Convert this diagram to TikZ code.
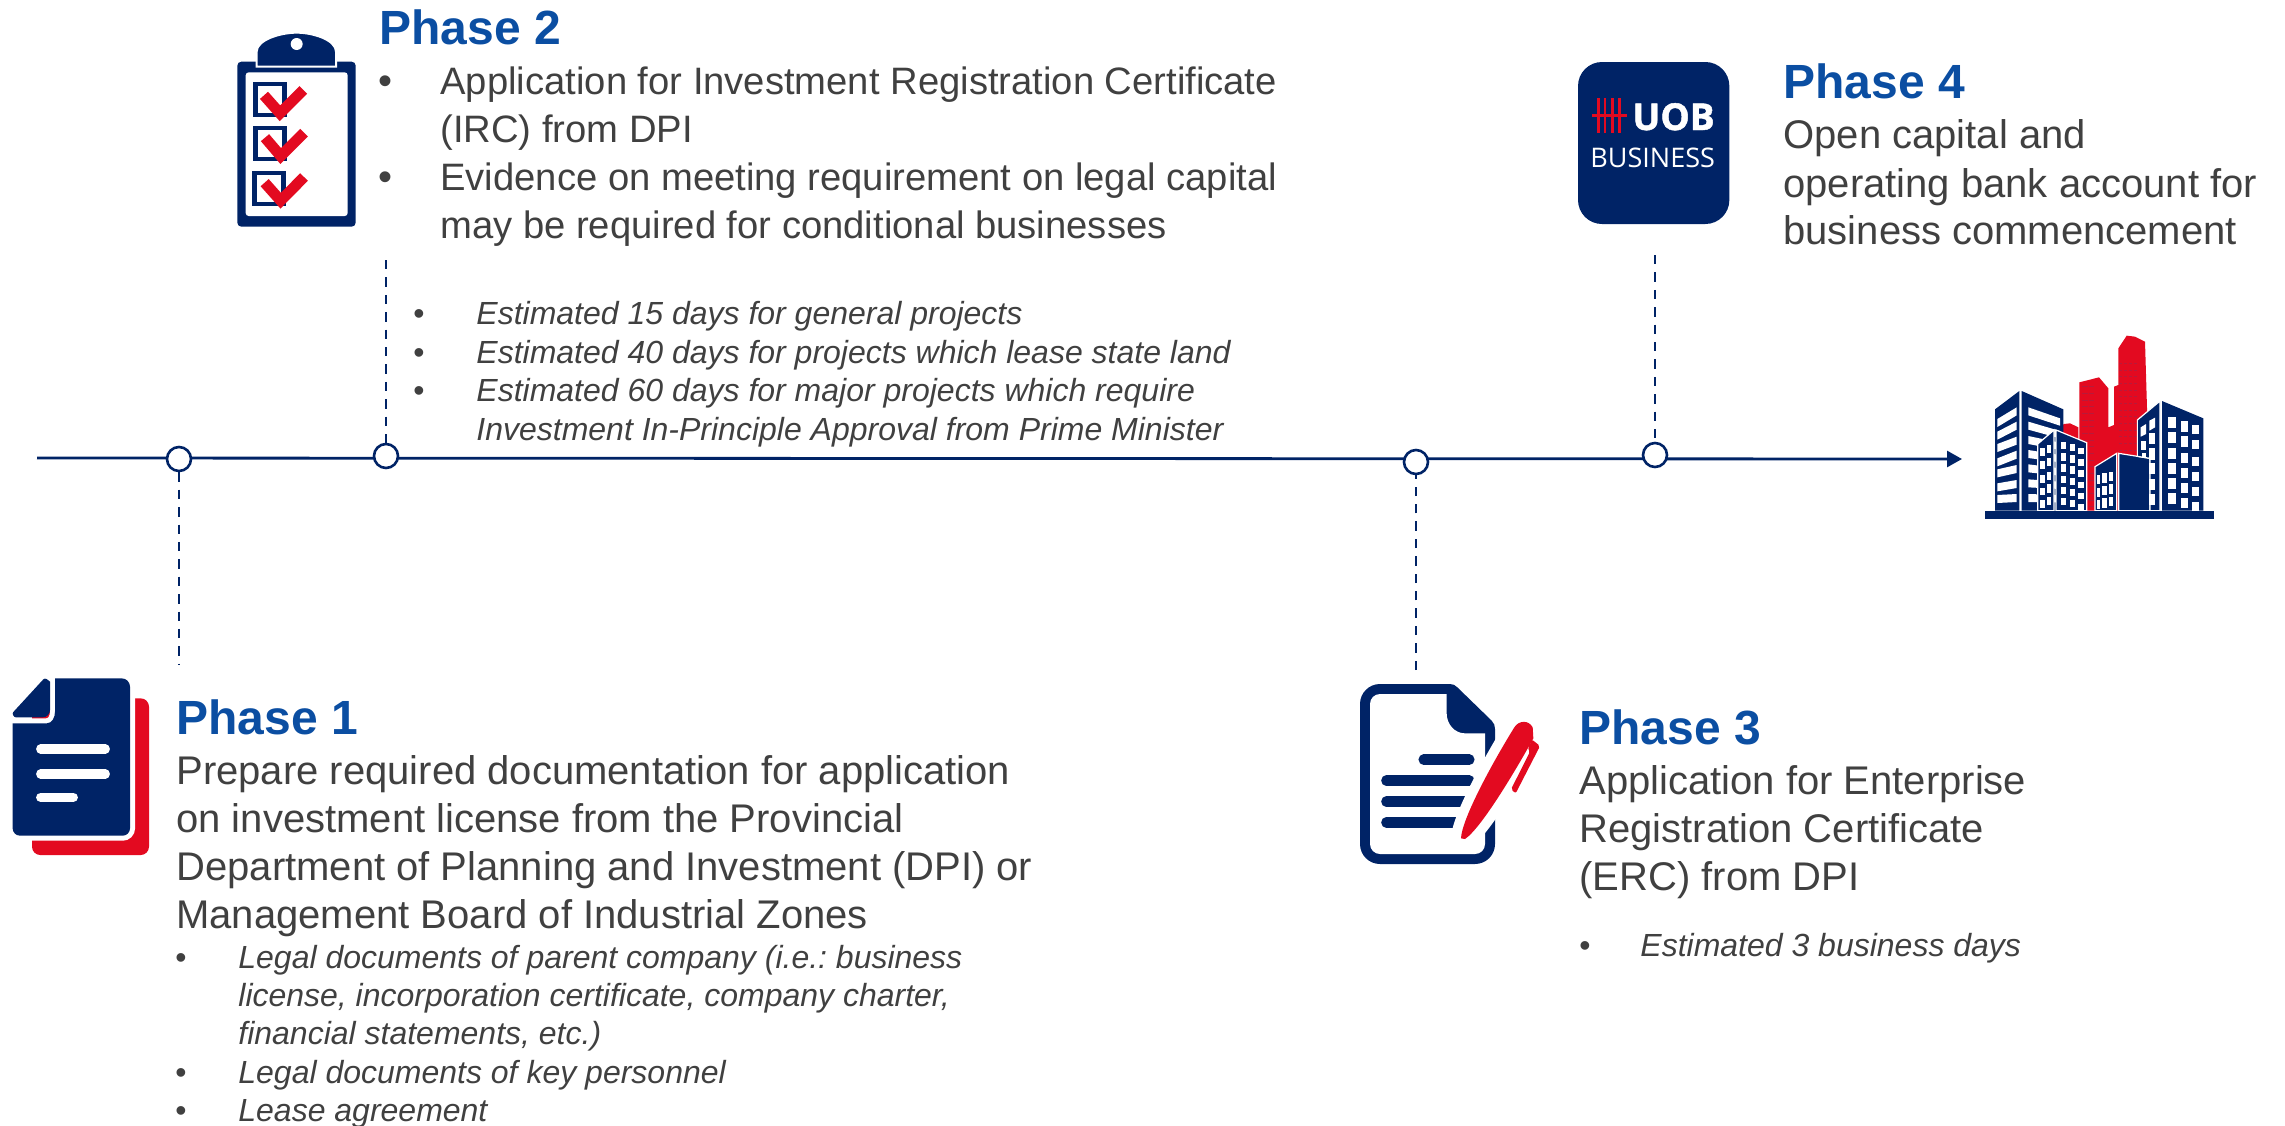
\documentclass[tikz,border=0pt]{standalone}
\usepackage{fontspec}
\setmainfont{Liberation Sans}
\newfontfamily\logofont[BoldFeatures={FakeBold=1.2}]{Open Sans}
\usetikzlibrary{arrows.meta}
\definecolor{navy}{HTML}{002366}
\definecolor{redc}{HTML}{E30A20}
\definecolor{headc}{HTML}{0B4EA2}
\definecolor{bodyc}{HTML}{404040}
\definecolor{winred}{HTML}{B81A3A}
\frenchspacing
\tikzset{
  headtext/.style={anchor=base west,inner sep=0pt,text=headc,font=\fontsize{24}{28}\selectfont\bfseries},
  bodytext/.style={anchor=base west,inner sep=0pt,text=bodyc,font=\fontsize{20}{24}\selectfont},
  bodysmall/.style={anchor=base west,inner sep=0pt,text=bodyc,font=\fontsize{19.1}{24}\selectfont},
  ittext/.style={anchor=base west,inner sep=0pt,text=bodyc,font=\fontsize{16}{18}\selectfont\itshape},
  bigbullet/.style={anchor=base,inner sep=0pt,text=bodyc,font=\fontsize{20}{24}\selectfont},
  smallbullet/.style={anchor=base,inner sep=0pt,text=bodyc,font=\fontsize{16}{18}\selectfont},
  mark circle/.style={circle,draw=navy,fill=white,line width=1.3pt,minimum size=12pt,inner sep=0pt},
  timeline/.style={draw=navy,line width=1.4pt,-{Triangle[length=7.5pt,width=8pt]}},
  stem/.style={draw=navy,line width=1.25pt,dash pattern=on 4.7pt off 4pt},
  zoomed/.style={x=0.16667pt,y=-0.16667pt},
}
\begin{document}
\begin{tikzpicture}[x=0.5pt,y=-0.5pt]
\useasboundingbox (0,0) rectangle (2285,1125);

% timeline
\coordinate (tlstart) at (37,458);
\coordinate (tlend) at (1962,459);
\draw[timeline] (tlstart) -- (tlend);
\node[mark circle] (c1) at (179,459) {};
\node[mark circle] (c2) at (386,456) {};
\node[mark circle] (c3) at (1416,462) {};
\node[mark circle] (c4) at (1655,455) {};
\coordinate (e1) at (179,665);
\coordinate (e2) at (386,260);
\coordinate (e3) at (1416,670);
\coordinate (e4) at (1655,255);
\draw[stem] (c1) -- (e1);
\draw[stem] (e2) -- (c2);
\draw[stem] (e3) -- (c3);
\draw[stem] (e4) -- (c4);

% Phase 2
\node[headtext] (h2) at (379,44) {Phase 2};
\node[bigbullet] (b21) at (385,94) {•};
\node[bodysmall] (t21) at (440,94) {Application for Investment Registration Certificate};
\node[bodysmall] (t22) at (440,142) {(IRC) from DPI};
\node[bigbullet] (b22) at (385,190) {•};
\node[bodysmall] (t23) at (440,190) {Evidence on meeting requirement on legal capital};
\node[bodysmall] (t24) at (440,238) {may be required for conditional businesses};
\node[smallbullet] (b23) at (419,324.5) {•};
\node[ittext] (t25) at (476,324.5) {Estimated 15 days for general projects};
\node[smallbullet] (b24) at (419,363.5) {•};
\node[ittext] (t26) at (476,363.5) {Estimated 40 days for projects which lease state land};
\node[smallbullet] (b25) at (419,401.5) {•};
\node[ittext] (t27) at (476,401.5) {Estimated 60 days for major projects which require};
\node[ittext] (t28) at (476,440.5) {Investment In-Principle Approval from Prime Minister};

% Phase 4
\node[headtext] (h4) at (1783,98) {Phase 4};
\node[bodytext] (t41) at (1783,148.5) {Open capital and};
\node[bodytext] (t42) at (1783,197.5) {operating bank account for};
\node[bodytext] (t43) at (1783,244.5) {business commencement};

% Phase 1
\node[headtext] (h1) at (176,734) {Phase 1};
\node[bodytext] (t11) at (176,784) {Prepare required documentation for application};
\node[bodytext] (t12) at (176,832) {on investment license from the Provincial};
\node[bodytext] (t13) at (176,880) {Department of Planning and Investment (DPI) or};
\node[bodytext] (t14) at (176,928) {Management Board of Industrial Zones};
\node[smallbullet] (b11) at (181,968) {•};
\node[ittext] (t15) at (238,968) {Legal documents of parent company (i.e.: business};
\node[ittext] (t16) at (238,1006) {license, incorporation certificate, company charter,};
\node[ittext] (t17) at (238,1044) {financial statements, etc.)};
\node[smallbullet] (b12) at (181,1083) {•};
\node[ittext] (t18) at (238,1083) {Legal documents of key personnel};
\node[smallbullet] (b13) at (181,1121) {•};
\node[ittext] (t19) at (238,1121) {Lease agreement};

% Phase 3
\node[headtext] (h3) at (1579,744) {Phase 3};
\node[bodytext] (t31) at (1579,794.5) {Application for Enterprise};
\node[bodytext] (t32) at (1579,842.5) {Registration Certificate};
\node[bodytext] (t33) at (1579,890.5) {(ERC) from DPI};
\node[smallbullet] (b31) at (1585,956.5) {•};
\node[ittext] (t34) at (1640,956.5) {Estimated 3 business days};

% Document icon (Phase 1)
\begin{scope}[shift={(0,660)},zoomed]
\fill[redc] (96,140) to[out=90,in=180] (121,115) -- (422,115) to[out=0,in=90] (447,140) -- (447,560) to[out=-90,in=0] (422,585) -- (121,585) to[out=180,in=-90] (96,560) -- cycle;
\def\docbody{(165,55) -- (365,55) to[out=0,in=90] (390,80) -- (390,505) to[out=-90,in=0] (368,527) -- (60,527) to[out=180,in=-90] (38,505) -- (38,190) -- (140,190) to[out=0,in=-90] (165,155) -- cycle}
\draw[white,line width=5pt] \docbody;
\fill[navy] \docbody;
\fill[navy] (130,58) to[out=45,in=135] (150,65) -- (150,150) to[out=-90,in=0] (128,172) -- (48,172) to[out=180,in=-135] (40,156) -- cycle;
\draw[white,line width=4.6pt,line cap=round] (122,267) -- (316,267) (122,342) -- (316,342) (122,412) -- (220,412);
\end{scope}

% Clipboard icon (Phase 2)
\begin{scope}[shift={(220,20)},zoomed]
\fill[navy,rounded corners=2pt] (52,125) rectangle (407,620);
\fill[white,rounded corners=1.5pt] (77,157) rectangle (383,588);
\filldraw[navy,draw=white,line width=1pt] (110,140) -- (110,95) .. controls (110,60) and (180,38) .. (230,38) .. controls (280,38) and (348,60) .. (348,95) -- (348,140) -- cycle;
\fill[white] (230,72) circle (18);
\foreach \bx/\by in {100/185,100/317,97/452}{
  \draw[navy,line width=2.2pt] (\bx+6.5,\by+6.5) rectangle (\bx+93.5,\by+100);
}
\draw[redc,line width=5.4pt] (132,226) -- (180,280) -- (250,210);
\draw[redc,line width=5.4pt] (135,353) -- (182,408) -- (252,338);
\draw[redc,line width=5.4pt] (134,488) -- (182,542) -- (252,471);
\end{scope}

% UOB icon (Phase 4)
\begin{scope}[shift={(1570,50)},zoomed]
\fill[navy,rounded corners=12pt] (24,36) rectangle (478,522);
\draw[redc,line width=1.3pt] (85,145) -- (85,250) (105,145) -- (105,250) (127,145) -- (127,250) (148,145) -- (148,250) (66,197) -- (170,197);
\node[anchor=base west,inner sep=0pt,text=white,font=\logofont\fontsize{18.5}{20}\selectfont\bfseries] (uob) at (186,240) {UOB};
\node[anchor=base west,inner sep=0pt,text=white,font=\logofont\fontsize{13.5}{16}\selectfont] (biz) at (60,353) {BUSINESS};
\end{scope}

% Contract icon (Phase 3)
\begin{scope}[shift={(1350,670)},zoomed]
\fill[navy] (90,42) -- (300,42) to[out=0,in=135] (322,52) -- (425,152) to[out=-45,in=90] (435,178) -- (435,522) to[out=-90,in=0] (375,582) -- (90,582) to[out=180,in=-90] (30,522) -- (30,102) to[out=90,in=180] cycle;
\fill[white] (90,72) -- (290,72) -- (290,130) to[out=-90,in=180] (345,190) -- (405,190) -- (405,522) to[out=-90,in=0] (375,552) -- (90,552) to[out=180,in=-90] (60,522) -- (60,102) to[out=90,in=180] cycle;
\draw[navy,line width=5.2pt,line cap=round] (221,269) -- (358,269) (109,332) -- (358,332) (109,395) -- (358,395) (109,457) -- (358,457);
\def\penbody{(333,505) .. controls (335,450) and (420,290) .. (493,172) .. controls (505,152) and (535,148) .. (548,172) -- (550,205) .. controls (520,260) and (400,470) .. (345,507) -- cycle}
\draw[white,line width=10pt,line join=round] \penbody;
\fill[redc] \penbody;
\fill[redc,rounded corners=1pt] (545,208) -- (570,228) -- (497,370) -- (483,358) -- (540,245) -- (532,232) -- (540,225) -- cycle;
\end{scope}

% Buildings icon
\begin{scope}[shift={(1960,320)},zoomed]
\fill[redc] (475,85) -- (500,47) -- (525,50) -- (555,65) -- (562,300) -- (562,572) -- (380,572) -- (358,400) -- (358,187) -- (417,172) -- (445,205) -- (445,322) -- (462,315) -- (462,200) -- (475,195) -- cycle;
\fill[redc] (285,330) -- (312,312) -- (330,310) -- (355,322) -- (355,400) -- (285,400) -- cycle;
\foreach \yy in {130,150,...,390}{
  \draw[winred,line width=0.5pt,dash pattern=on 1.5pt off 1pt] (478,\yy) -- (530,\yy);
}
\foreach \yy in {200,220,...,560}{
  \draw[winred,line width=0.4pt,dash pattern=on 3pt off 0.8pt] (365,\yy) -- (402,\yy);
}
% building A
\fill[navy] (105,268) -- (178,213) -- (178,572) -- (105,572) -- cycle;
\fill[navy] (185,213) -- (310,268) -- (310,572) -- (185,572) -- cycle;
\foreach \ya/\yb in {297/262,335/305,372/350,415/392,448/435,490/480,525/522}{
  \fill[white] (112,\ya) -- (170,\yb) -- (170,\yb+24) -- (112,\ya+24) -- cycle;
}
\foreach \ya/\yb in {262/295,305/333,348/368,390/405,433/445,478/485,522/525}{
  \fill[white] (205,\ya) -- (300,\yb) -- (300,\yb+22) -- (205,\ya+24) -- cycle;
}
% building B
\filldraw[navy,draw=white,line width=0.6pt] (233,372) -- (282,330) -- (282,572) -- (233,572) -- cycle;
\filldraw[navy,draw=white,line width=0.6pt] (288,330) -- (380,368) -- (380,572) -- (288,572) -- cycle;
\foreach \yy in {385,423,465,503,540}{
  \fill[white] (241,\yy) rectangle (254,\yy+23);
  \fill[white] (260,\yy-10) rectangle (273,\yy+15);
}
\foreach \yy in {365,400,433,467,500,533}{
  \fill[white] (302,\yy) rectangle (319,\yy+23);
  \fill[white] (330,\yy+6) rectangle (346,\yy+28);
  \fill[white] (355,\yy+18) rectangle (372,\yy+38);
}
% building D
\filldraw[navy,draw=white,line width=0.6pt] (405,440) -- (470,400) -- (470,572) -- (405,572) -- cycle;
\filldraw[navy,draw=white,line width=0.6pt] (476,400) -- (570,415) -- (570,572) -- (476,572) -- cycle;
\foreach \yy in {465,503,540}{
  \fill[white] (410,\yy) rectangle (421,\yy+28);
  \fill[white] (427,\yy-5) rectangle (440,\yy+23);
  \fill[white] (447,\yy-10) rectangle (460,\yy+18);
}
% building C
\filldraw[navy,draw=white,line width=0.6pt] (532,300) -- (600,243) -- (600,572) -- (570,572) -- (570,415) -- (532,409) -- cycle;
\fill[navy] (606,243) -- (730,295) -- (730,572) -- (606,572) -- cycle;
\fill[white] (542,322) -- (558,312) -- (558,342) -- (542,350) -- cycle;
\fill[white] (568,302) -- (585,293) -- (585,322) -- (568,332) -- cycle;
\fill[white] (542,362) rectangle (558,390);
\fill[white] (568,340) rectangle (585,372);
\fill[white] (568,385) rectangle (585,420);
\fill[white] (545,400) rectangle (558,415);
\foreach \yy in {430,477,522}{
  \fill[white] (568,\yy) rectangle (585,\yy+33);
}
\foreach \yy in {290,335,385,430,475,520}{
  \fill[white] (625,\yy) rectangle (648,\yy+33);
  \fill[white] (662,\yy+13) rectangle (683,\yy+45);
  \fill[white] (697,\yy+25) rectangle (717,\yy+52);
}
\fill[navy] (75,573) rectangle (762,597);
\end{scope}
\end{tikzpicture}
\end{document}
